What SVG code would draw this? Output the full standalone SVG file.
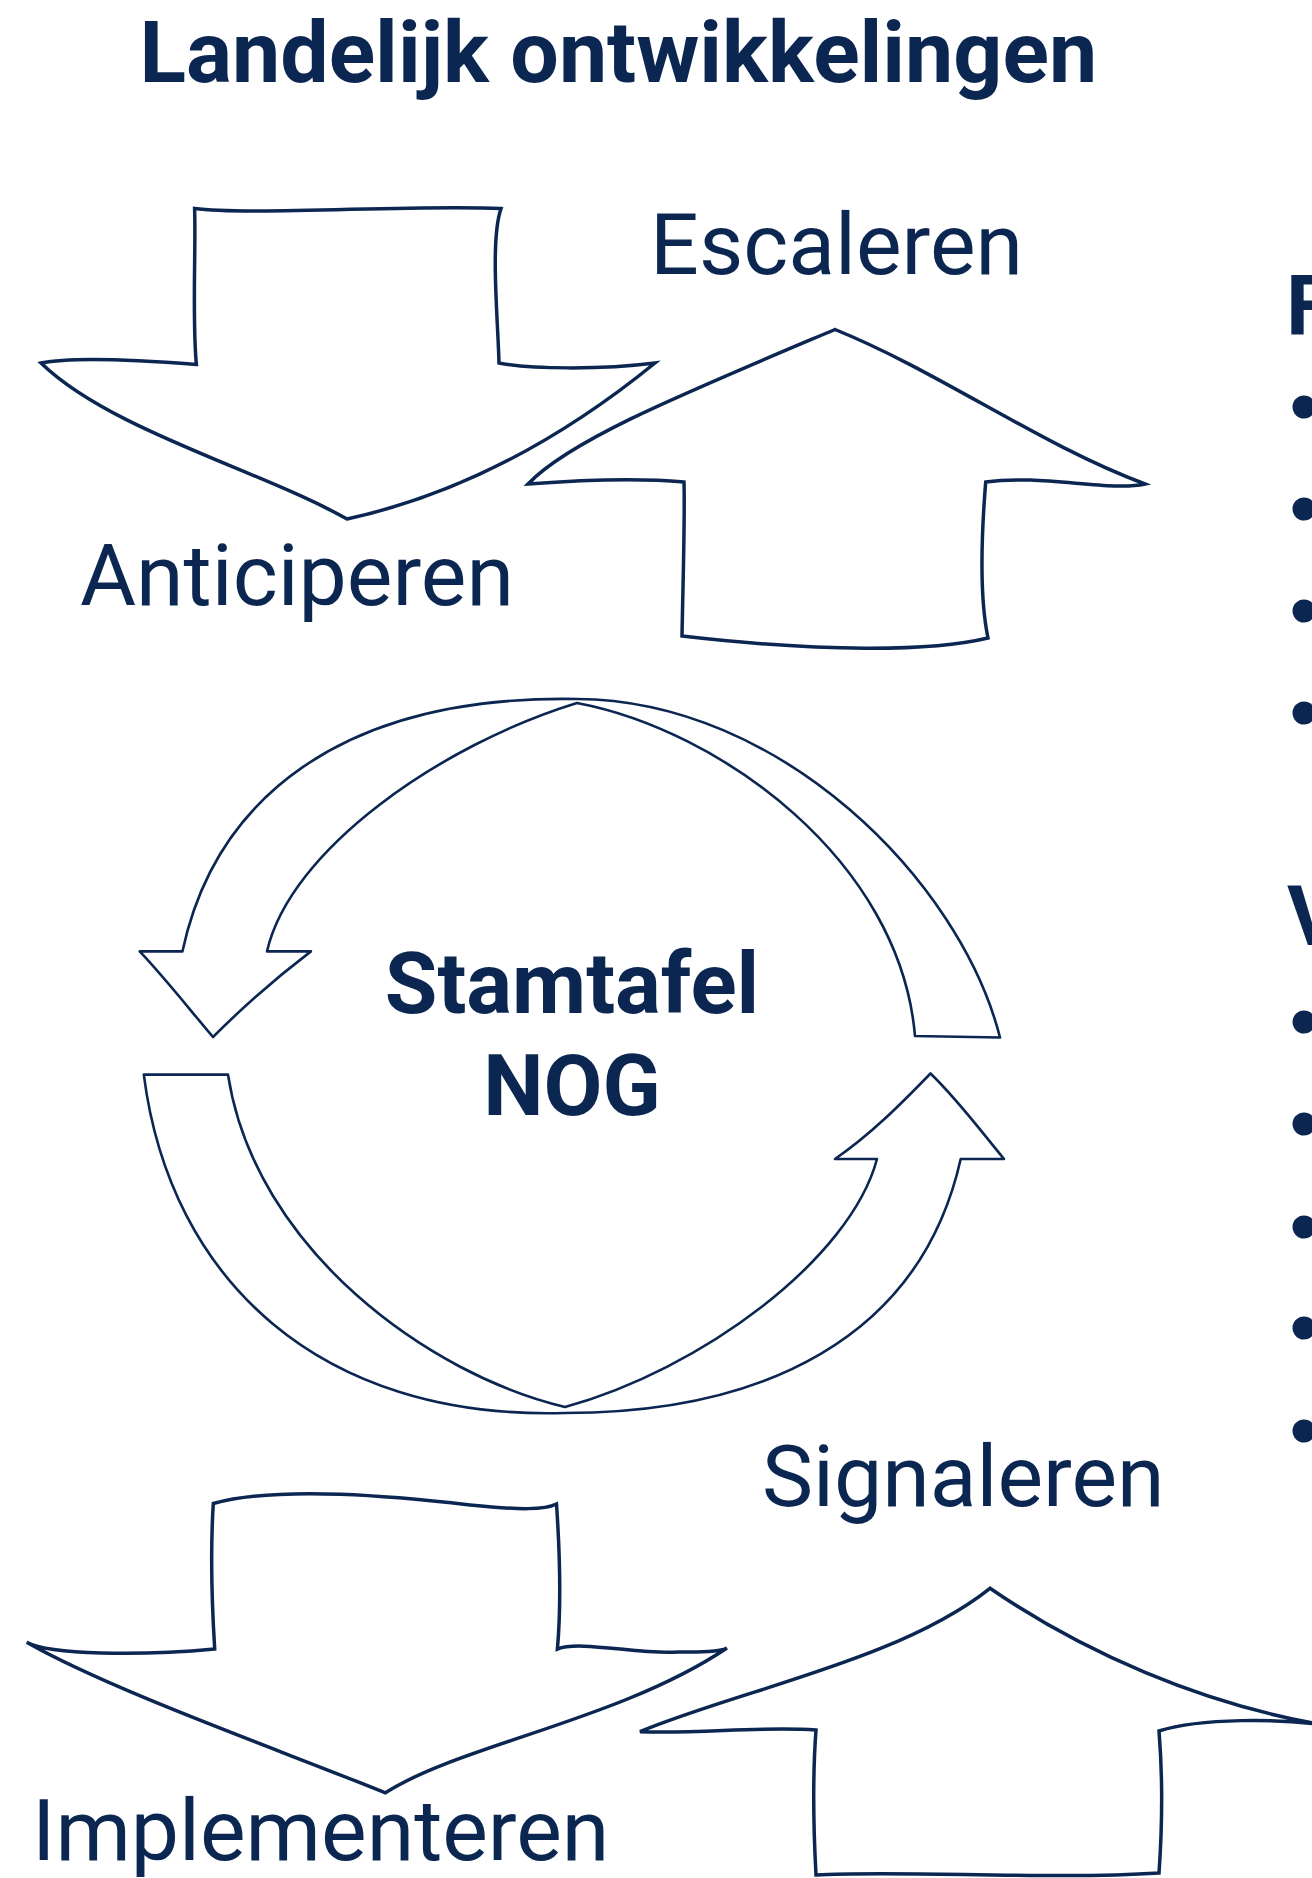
<svg xmlns="http://www.w3.org/2000/svg" width="1312" height="1878" viewBox="0 0 1312 1878">
<style>
.t{font-family:Roboto,"Liberation Sans",sans-serif;fill:#0B2751}
.b{font-weight:700}
.big{fill:#fff;stroke:#0B2751;stroke-width:3.5;stroke-linejoin:miter}
.ring{fill:#fff;stroke:#0B2751;stroke-width:2.6;stroke-linejoin:round}
.dot{fill:#0B2751}
</style>
<rect width="1312" height="1878" fill="#fff"/>
<g id="title"><text class="t b" x="139.5" y="82" font-size="86">Landelijk ontwikkelingen</text></g>
<g id="connectors">
<path id="arrow-anticiperen" class="big" d="M194.6,208.6 C250,216 420,204 501,208.6 C490,240 498,320 499,363 C530,369 600,370 655,363 C585,420 480,490 347,519 C260,470 110,430 41,363 C70,357 140,360 196.4,364.4 C192,320 196,250 194.6,208.6 Z"/>
<path id="arrow-escaleren" class="big" d="M835,329.5 C940,372 1040,445 1145,484 C1110,492 1040,474 985.7,482 C981,540 980,600 988,638 C930,652 820,652 682,636 C683,580 685,520 684,482 C640,478 580,480 528,484 C570,440 680,395 835,329.5 Z"/>
<path id="ring-top" class="ring" d="M182.4,951.4 C215,800 340,695 577,699 C780,700 960,880 1000,1037.5 L915,1036 C900,860 720,730 577,703 C440,745 290,850 267,951.4 L310.9,951.4 C280,975 245,1005 213,1037 C190,1010 165,978 139.7,951.4 Z"/>
<path id="ring-bottom" class="ring" d="M143.8,1074.6 C170,1280 320,1420 565,1413 C760,1413 920,1340 960.7,1159 L1004,1159 C980,1130 958,1100 930.5,1073.5 C900,1105 870,1135 835,1159 L877,1159 C850,1260 700,1370 565,1407 C430,1375 255,1250 228,1074.6 Z"/>
<path id="arrow-implementeren" class="big" d="M213.3,1503.5 C280,1485 400,1497 470,1505 C520,1510 545,1510 556.5,1504 C561,1570 560,1620 557.4,1649 C580,1640 640,1655 678,1652 C700,1652 720,1652 727,1648 C620,1720 460,1745 385.4,1792.8 C280,1750 110,1690 26.7,1642.3 C50,1655 140,1656 214.7,1649 C211,1590 211,1540 213.3,1503.5 Z"/>
<path id="arrow-signaleren" class="big" d="M990,1588.3 C1080,1650 1200,1705 1330,1726 C1280,1718 1200,1718 1159,1731 C1163,1780 1162,1830 1159,1873 C1050,1880 900,1870 816,1875 C813,1820 813,1770 816,1730 C760,1726 700,1734 640,1731.7 C740,1690 900,1660 990,1588.3 Z"/>
</g>
<g id="label-escaleren"><text class="t" x="650" y="274" font-size="86">Escaleren</text></g>
<g id="label-anticiperen"><text class="t" x="80" y="605" font-size="86">Anticiperen</text></g>
<g id="center"><text class="t b" x="572" y="1013" font-size="85.5" text-anchor="middle">Stamtafel</text><text class="t b" x="572" y="1115" font-size="85.5" text-anchor="middle">NOG</text></g>
<g id="label-signaleren"><text class="t" x="762" y="1506" font-size="86">Signaleren</text></g>
<g id="label-implementeren"><text class="t" x="32" y="1860" font-size="86">Implementeren</text></g>
<g id="list-f"><text class="t b" x="1286" y="335" font-size="84">F</text>
<circle class="dot" cx="1304" cy="407" r="11.5"/><circle class="dot" cx="1304" cy="509" r="11.5"/><circle class="dot" cx="1304" cy="611" r="11.5"/><circle class="dot" cx="1304" cy="713" r="11.5"/></g>
<g id="list-v"><text class="t b" x="1287" y="945" font-size="84">V</text>
<circle class="dot" cx="1304" cy="1022" r="11.5"/><circle class="dot" cx="1304" cy="1124" r="11.5"/><circle class="dot" cx="1304" cy="1227" r="11.5"/><circle class="dot" cx="1304" cy="1328" r="11.5"/><circle class="dot" cx="1304" cy="1431" r="11.5"/></g>
</svg>
